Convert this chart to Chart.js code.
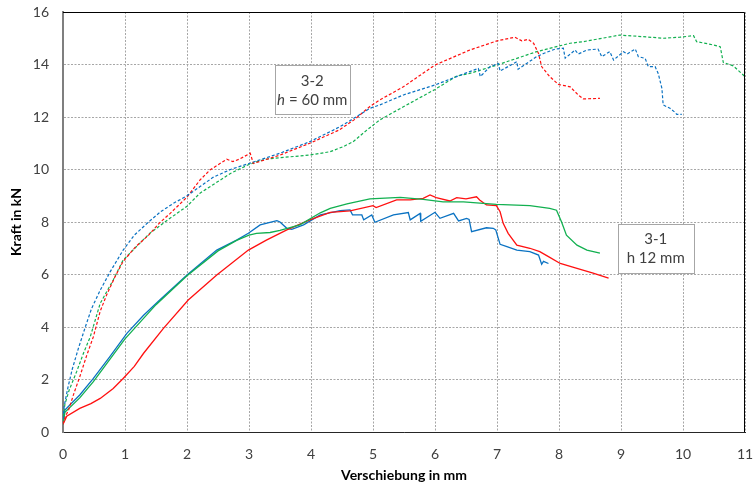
<!DOCTYPE html>
<html>
<head>
<meta charset="utf-8">
<script src="https://cdn.jsdelivr.net/npm/chart.js@4.4.1/dist/chart.umd.min.js"></script>
<style>
  body { margin: 0; background: #fff; }
</style>
</head>
<body>
<canvas id="chart" width="756" height="485"></canvas>
<script>
// Kraft-Verschiebung, Serie 3-1 (durchgezogen) und 3-2 (gestrichelt)
const blue31 = [[0,0.3],[0.03,0.84],[0.27,1.41],[0.49,2.04],[0.75,2.85],[1.03,3.76],[1.3,4.45],[1.56,5.03],[2.0,5.98],[2.48,6.93],[2.8,7.31],[2.99,7.57],[3.18,7.89],[3.45,8.05],[3.5,8.0],[3.61,7.76],[3.69,7.72],[3.88,7.89],[4.15,8.27],[4.47,8.43],[4.63,8.46],[4.67,8.27],[4.82,8.27],[4.85,8.08],[4.98,8.27],[5.03,7.99],[5.33,8.27],[5.57,8.36],[5.6,8.08],[5.76,8.33],[5.77,8.03],[6.0,8.37],[6.08,8.14],[6.3,8.33],[6.38,8.04],[6.51,8.14],[6.55,8.1],[6.59,7.63],[6.83,7.78],[6.94,7.76],[6.98,7.7],[7.05,7.15],[7.16,7.06],[7.32,6.93],[7.53,6.87],[7.67,6.74],[7.72,6.39],[7.75,6.5],[7.83,6.42]];
const red31 = [[0,0.3],[0.02,0.39],[0.06,0.6],[0.27,0.9],[0.45,1.08],[0.6,1.28],[0.81,1.66],[0.97,2.04],[1.15,2.5],[1.3,3.0],[1.62,3.95],[2.02,5.03],[2.48,5.98],[2.99,6.93],[3.28,7.31],[3.61,7.7],[3.98,8.08],[4.31,8.37],[4.63,8.42],[5.0,8.62],[5.05,8.55],[5.38,8.84],[5.6,8.84],[5.81,8.9],[5.92,9.03],[6.02,8.93],[6.24,8.8],[6.35,8.93],[6.5,8.88],[6.67,8.96],[6.72,8.84],[6.83,8.65],[6.99,8.62],[7.05,8.39],[7.1,7.95],[7.18,7.57],[7.32,7.12],[7.53,7.0],[7.69,6.87],[7.83,6.68],[8.02,6.42],[8.29,6.23],[8.55,6.05],[8.8,5.86]];
const green31 = [[0,0.3],[0.03,0.75],[0.27,1.3],[0.49,1.92],[1.0,3.55],[1.5,4.85],[2.0,5.95],[2.5,6.9],[2.8,7.3],[3.0,7.5],[3.12,7.57],[3.34,7.6],[3.5,7.68],[3.82,7.89],[4.15,8.35],[4.31,8.52],[4.58,8.69],[4.95,8.88],[5.44,8.94],[5.81,8.86],[6.13,8.77],[6.46,8.77],[6.99,8.67],[7.53,8.62],[7.85,8.52],[7.96,8.45],[8.04,8.01],[8.12,7.5],[8.29,7.12],[8.45,6.93],[8.66,6.81]];

const blue32 = [[0,0.5],[0.02,1.0],[0.08,1.7],[0.15,2.4],[0.25,3.2],[0.36,4.0],[0.46,4.7],[0.6,5.4],[0.76,6.1],[0.97,6.93],[1.15,7.5],[1.38,8.0],[1.58,8.4],[1.78,8.71],[2.0,9.0],[2.21,9.35],[2.42,9.7],[2.7,10.0],[3.0,10.23],[3.5,10.62],[3.98,11.06],[4.36,11.5],[4.52,11.7],[4.95,12.33],[5.11,12.46],[5.49,12.84],[6.0,13.22],[6.35,13.54],[6.56,13.73],[6.7,13.85],[6.73,13.54],[6.89,13.92],[7.02,14.04],[7.05,13.75],[7.32,14.11],[7.34,13.82],[7.64,14.3],[7.75,14.42],[7.94,14.59],[8.07,14.62],[8.1,14.24],[8.26,14.55],[8.31,14.4],[8.45,14.55],[8.63,14.59],[8.69,14.3],[8.82,14.49],[8.88,14.17],[9.04,14.49],[9.1,14.4],[9.23,14.59],[9.28,14.3],[9.39,14.23],[9.44,13.92],[9.55,13.92],[9.6,13.66],[9.66,13.09],[9.68,12.46],[9.79,12.33],[9.87,12.18],[9.9,12.1],[9.98,12.1]];
const red32 = [[0,0.3],[0.04,0.6],[0.09,0.84],[0.18,1.5],[0.27,2.1],[0.38,2.9],[0.49,3.63],[0.6,4.6],[0.7,5.2],[0.84,5.92],[0.97,6.5],[1.17,7.05],[1.38,7.5],[1.55,7.95],[1.73,8.33],[2.0,8.95],[2.21,9.6],[2.37,9.98],[2.64,10.39],[2.74,10.3],[2.85,10.4],[3.02,10.62],[3.07,10.23],[3.5,10.55],[3.98,11.0],[4.45,11.5],[4.7,11.9],[4.95,12.4],[5.11,12.65],[5.49,13.15],[6.0,13.98],[6.56,14.55],[7.0,14.9],[7.29,15.04],[7.4,14.9],[7.5,14.96],[7.59,14.81],[7.67,14.42],[7.72,13.92],[7.85,13.54],[7.99,13.24],[8.18,13.15],[8.31,12.84],[8.39,12.69],[8.66,12.71]];
const green32 = [[0,0.4],[0.03,1.05],[0.1,1.6],[0.22,2.3],[0.33,3.0],[0.44,3.63],[0.6,4.9],[0.81,5.79],[0.97,6.55],[1.2,7.1],[1.4,7.57],[1.7,8.1],[2.0,8.6],[2.21,9.1],[2.42,9.42],[2.7,9.85],[2.98,10.17],[3.13,10.3],[3.3,10.4],[3.5,10.45],[3.98,10.55],[4.31,10.68],[4.52,10.87],[4.68,11.06],[4.9,11.5],[5.11,11.89],[5.49,12.39],[6.0,13.05],[6.35,13.56],[6.56,13.66],[7.0,13.98],[7.64,14.49],[7.96,14.68],[8.18,14.81],[8.39,14.87],[8.98,15.12],[9.36,15.06],[9.68,15.0],[9.95,15.04],[10.17,15.1],[10.22,14.87],[10.44,14.77],[10.6,14.68],[10.65,14.08],[10.81,13.95],[11.0,13.54]];

const BLUE = '#0a72c2';
const RED = '#ff1010';
const GREEN = '#12b050';
const FONT = 'Lato, "Open Sans", sans-serif';

function pts(arr) {
  return arr.map(p => ({ x: p[0], y: p[1] }));
}

function series(arr, color, dashed) {
  return {
    data: pts(arr),
    borderColor: color,
    borderWidth: dashed ? 1.2 : 1.3,
    borderDash: dashed ? [3, 2] : [],
    showLine: true,
    pointRadius: 0,
    fill: false,
    tension: 0
  };
}

// text boxes, anchored at data position (center)
const notes = [
  { x: 4.02, y: 13.03, w: 75, h: 49, lines: [[['3-2', false]], [['h', true], [' = 60 mm', false]]] },
  { x: 9.56, y: 7.0, w: 76, h: 49, lines: [[['3-1', false]], [['h 12 mm', false]]] }
];

const framePlugin = {
  id: 'frame',
  afterDatasetsDraw(chart) {
    const { ctx, chartArea: a, scales } = chart;
    ctx.save();
    ctx.strokeStyle = '#000';
    ctx.lineWidth = 1;
    ctx.beginPath();
    ctx.moveTo(a.left, a.top + 0.5);
    ctx.lineTo(a.right - 0.5, a.top + 0.5);
    ctx.lineTo(a.right - 0.5, a.bottom);
    ctx.stroke();

    notes.forEach(n => {
      const cx = scales.x.getPixelForValue(n.x);
      const cy = scales.y.getPixelForValue(n.y);
      const left = Math.round(cx - n.w / 2) + 0.5;
      const top = Math.round(cy - n.h / 2) + 0.5;
      ctx.fillStyle = '#fff';
      ctx.fillRect(left, top, n.w, n.h);
      ctx.strokeStyle = '#a6a6a6';
      ctx.strokeRect(left, top, n.w, n.h);
      ctx.fillStyle = '#404040';
      ctx.textBaseline = 'middle';
      ctx.textAlign = 'left';
      n.lines.forEach((parts, i) => {
        let total = 0;
        parts.forEach(p => {
          ctx.font = (p[1] ? 'italic ' : '') + '15px ' + FONT;
          total += ctx.measureText(p[0]).width;
        });
        let x = cx - total / 2;
        const y = cy - 9 + i * 19;
        parts.forEach(p => {
          ctx.font = (p[1] ? 'italic ' : '') + '15px ' + FONT;
          ctx.fillText(p[0], x, y);
          x += ctx.measureText(p[0]).width;
        });
      });
    });
    ctx.restore();
  }
};

const ctx = document.getElementById('chart').getContext('2d');
new Chart(ctx, {
  type: 'scatter',
  data: {
    datasets: [
      series(blue32, BLUE, true),
      series(red32, RED, true),
      series(green32, GREEN, true),
      series(green31, GREEN, false),
      series(red31, RED, false),
      series(blue31, BLUE, false)
    ]
  },
  options: {
    responsive: false,
    animation: false,
    layout: { padding: { top: 12, right: 11, left: 0, bottom: 0 } },
    plugins: {
      legend: { display: false },
      tooltip: { enabled: false }
    },
    scales: {
      x: {
        type: 'linear',
        min: 0,
        max: 11,
        afterFit: s => { s.height = 53; s.paddingLeft = 0; s.paddingRight = 0; },
        ticks: { stepSize: 1, padding: 14, color: '#404040', font: { family: FONT, size: 14 } },
        grid: { color: '#a6a6a6', lineWidth: 1, drawTicks: false },
        border: { color: '#262626', width: 1, dash: [2, 1.5] },
        title: {
          display: true,
          text: 'Verschiebung in mm',
          color: '#000',
          font: { family: FONT, size: 14, weight: 'bold' },
          padding: { top: 0, bottom: 1 }
        }
      },
      y: {
        min: 0,
        max: 16,
        afterFit: s => { s.width = 63; s.paddingTop = 0; s.paddingBottom = 0; },
        ticks: { stepSize: 2, padding: 14, color: '#404040', font: { family: FONT, size: 14 } },
        grid: { color: '#a6a6a6', lineWidth: 1, drawTicks: false },
        border: { color: '#7f7f7f', width: 2, dash: [2, 1.5] },
        title: {
          display: true,
          text: 'Kraft in kN',
          color: '#000',
          font: { family: FONT, size: 14, weight: 'bold' },
          padding: { top: 8, bottom: 0 }
        }
      }
    }
  },
  plugins: [framePlugin]
});
</script>
</body>
</html>
